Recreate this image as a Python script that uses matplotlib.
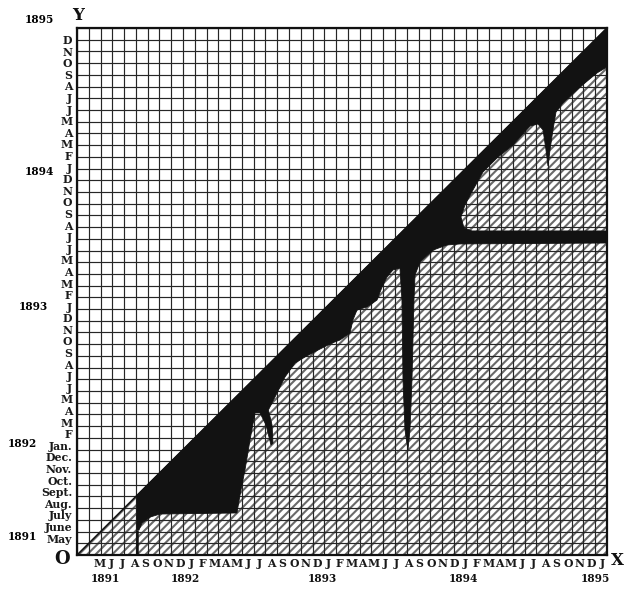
import matplotlib.pyplot as plt
from matplotlib.patches import Polygon
import numpy as np

# -------------------------------------------------
# DATA (months counted from the origin O, April 1891)
# -------------------------------------------------

n_months = 45

x_labels = ["M", "J", "J", "A", "S", "O", "N", "D",
            "J", "F", "M", "A", "M", "J", "J", "A", "S", "O", "N", "D",
            "J", "F", "M", "A", "M", "J", "J", "A", "S", "O", "N", "D",
            "J", "F", "M", "A", "M", "J", "J", "A", "S", "O", "N", "D",
            "J"]

y_labels = ["May", "June", "July", "Aug.", "Sept.", "Oct.", "Nov.", "Dec.",
            "Jan.", "F", "M", "A", "M", "J", "J", "A", "S", "O", "N", "D",
            "J", "F", "M", "A", "M", "J", "J", "A", "S", "O", "N", "D",
            "J", "F", "M", "A", "M", "J", "J", "A", "S", "O", "N", "D",
            "J"]

x_years = ["1891", "1892", "1893", "1894", "1895"]
x_year_pos = [2.4, 9.2, 20.8, 32.8, 44.0]

y_years = ["1895", "1894", "1893", "1892", "1891"]

# month where the black band starts on the diagonal
start_month = 5.09

# lower edge of the black band, traced from right to left
lag_x = [45.0, 44.15, 42.71, 41.26, 40.67, 40.41, 40.16, 39.99, 39.82, 39.57,
         39.14, 38.46, 37.02, 35.66, 34.47, 33.62, 32.94, 32.60, 32.86, 33.54,
         45.0, 45.0, 32.52, 31.41, 30.23, 29.12, 28.70, 28.61, 28.44, 28.27,
         28.10, 27.85, 27.68, 27.59, 27.42, 26.83, 26.32, 25.90, 25.47, 24.62,
         23.77, 23.43, 23.18, 22.33, 21.65, 20.46, 19.36, 18.51, 17.66, 16.81,
         16.25, 16.56, 16.64, 16.47, 16.05, 15.54, 15.11, 14.69, 14.26, 13.84,
         13.58, 7.05, 6.20, 5.52, 5.26, 5.09]

lag_y = [41.67, 41.16, 39.96, 38.60, 37.83, 36.29, 34.58, 33.22, 34.58, 36.29,
         36.80, 36.63, 35.01, 33.90, 32.70, 31.17, 29.89, 28.86, 27.92, 27.67,
         27.67, 26.64, 26.56, 26.47, 26.04, 25.02, 23.91, 21.77, 14.94, 10.67,
         8.97, 10.67, 14.94, 21.77, 24.51, 24.34, 23.74, 22.88, 21.77, 21.18,
         20.92, 20.07, 18.96, 18.36, 18.10, 17.50, 16.91, 16.39, 15.20, 13.49,
         12.38, 11.10, 9.56, 9.39, 11.10, 12.13, 12.13, 9.82, 7.26, 5.12,
         3.59, 3.50, 3.24, 2.73, 2.13, 2.13]

# -------------------------------------------------
# FIGURE
# -------------------------------------------------

plt.rcParams['font.family'] = ['DejaVu Serif']
plt.rcParams['font.weight'] = 'bold'
plt.rcParams['hatch.linewidth'] = 1.5

fig = plt.figure(figsize=(6.25, 5.89), dpi=100)
ax = fig.add_axes([0.1232, 0.0577, 0.848, 0.8948])

ax.set_xlim(0, n_months)
ax.set_ylim(0, n_months)

# hatched half below the diagonal
lower = Polygon([(0, 0), (n_months, 0), (n_months, n_months)],
                closed=True, facecolor='white', edgecolor='#6a6a6a',
                linewidth=0, hatch='////', zorder=1)
ax.add_patch(lower)

# monthly grid
ax.set_xticks(range(n_months + 1))
ax.set_yticks(range(n_months + 1))
ax.set_xticklabels([])
ax.set_yticklabels([])
ax.tick_params(which='major', length=0)
ax.set_axisbelow('line')
ax.grid(True, which='major', color='#262626', linewidth=0.85)

ax.plot([0, n_months], [0, n_months], color='#111111', linewidth=1.1, zorder=2)

# black band
verts = [(start_month, start_month), (n_months, n_months)] + list(zip(lag_x, lag_y))
band = Polygon(verts, closed=True, facecolor='#121212', edgecolor='#121212',
               linewidth=0.6, zorder=3)
ax.add_patch(band)

ax.plot([start_month, start_month], [0, lag_y[-1]], color='#121212',
        linewidth=1.8, zorder=3, solid_capstyle='butt')

for side in ax.spines.values():
    side.set_linewidth(1.6)
    side.set_color('#111111')
    side.set_zorder(4)

# month labels
x_pos = np.linspace(1.95, 44.6, len(x_labels))
ax.set_xticks(x_pos, labels=x_labels, minor=True)
y_pos = np.linspace(1.45, 45.0, len(y_labels))
ax.set_yticks(y_pos, labels=y_labels, minor=True)
ax.tick_params(which='minor', length=0, labelsize=7.8, colors='#1a1a1a')
ax.tick_params(axis='x', which='minor', pad=2.5)
ax.tick_params(axis='y', which='minor', pad=3.5)

# year labels
for label, xp in zip(x_years, x_year_pos):
    ax.text(xp, -0.0455, label, transform=ax.get_xaxis_transform(),
            ha='center', va='center', fontsize=7.6, color='#111111')

y_year_xy = [(-0.0717, 1.0152), (-0.0717, 0.7268), (-0.083, 0.4706),
             (-0.1038, 0.2125), (-0.1038, 0.036)]
for label, (xa, ya) in zip(y_years, y_year_xy):
    ax.text(xa, ya, label, transform=ax.transAxes, ha='center', va='center',
            fontsize=7.6, color='#000000')

ax.text(-0.0283, -0.0076, "O", transform=ax.transAxes, ha='center',
        va='center', fontsize=13, color='#111111')
ax.text(0.002, 1.0228, "Y", transform=ax.transAxes, ha='center',
        va='center', fontsize=12, color='#111111')
ax.text(1.019, -0.0095, "X", transform=ax.transAxes, ha='center',
        va='center', fontsize=12, color='#111111')

fig.savefig("out.png", dpi=100)
